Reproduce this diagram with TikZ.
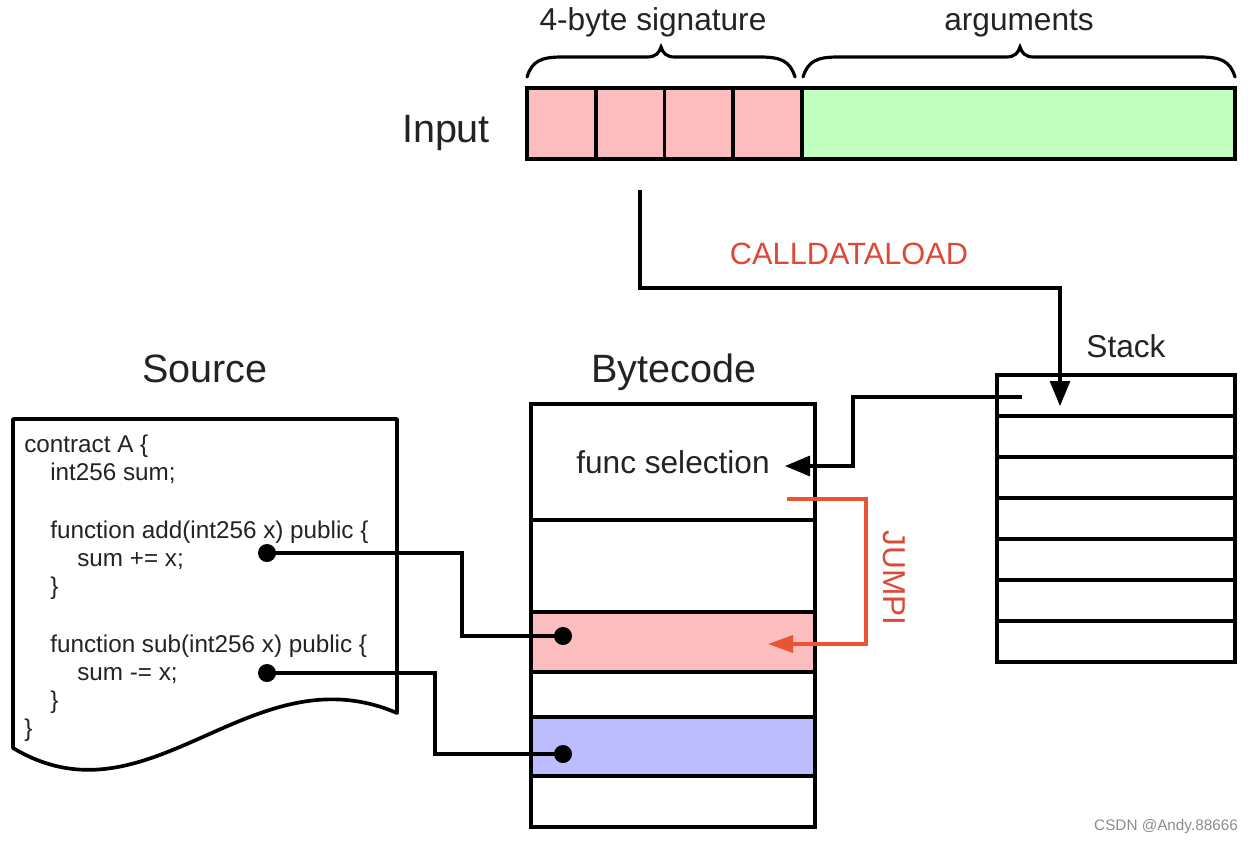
\documentclass[tikz,border=0pt]{standalone}
\usepackage{fontspec}
\setmainfont{Liberation Sans}
\usetikzlibrary{arrows.meta}
\definecolor{sigpink}{RGB}{251,189,189}
\definecolor{arggreen}{RGB}{193,255,193}
\definecolor{codeblue}{RGB}{188,188,255}
\definecolor{opred}{RGB}{222,72,52}
\definecolor{jred}{RGB}{232,84,52}
\definecolor{txt}{RGB}{35,35,35}
\definecolor{wmgray}{RGB}{140,140,140}
\newcommand\drawbrace[3]{%
  \draw[bracestyle] (#1,77) .. controls ({#1+5},61) and ({#1+14},57) .. ({#1+35},57)
    -- ({#3-14},57) .. controls ({#3-5},57) and ({#3-2},53) .. (#3,47)
    .. controls ({#3+2},53) and ({#3+5},57) .. ({#3+14},57)
    -- ({#2-35},57) .. controls ({#2-14},57) and ({#2-5},61) .. (#2,77);}
\begin{document}
\begin{tikzpicture}[x=0.02cm,y=-0.02cm,
  box/.style={draw,line width=2.1pt,inner sep=0pt,outer sep=0pt},
  cell/.style={box,fill=sigpink,minimum width=1.375cm,minimum height=1.42cm},
  brow/.style={box,fill=white,minimum width=5.68cm},
  srow/.style={box,fill=white,minimum width=4.76cm,minimum height=0.82cm},
  conn/.style={line width=1.8pt},
  blackarrow/.style={conn,-{Triangle[length=0.5cm,width=0.4cm]}},
  redarrow/.style={line width=1.8pt,draw=jred,-{Triangle[length=0.5cm,width=0.34cm]}},
  dot/.style={circle,fill=black,inner sep=0pt,minimum size=0.36cm},
  biglabel/.style={font=\fontsize{22.5pt}{26pt}\selectfont,anchor=base,inner sep=0pt,text=txt},
  midlabel/.style={font=\fontsize{18pt}{21pt}\selectfont,anchor=base,inner sep=0pt,text=txt},
  code/.style={font=\fontsize{13.8pt}{16pt}\selectfont,anchor=base west,inner sep=0pt,text=txt},
  bracestyle/.style={line width=1.8pt,line cap=round}
]
\useasboundingbox (0,0) rectangle (1254,842);

% ---------- Input ----------
\node[biglabel] (inputlbl) at (446,142) {Input};
\node[cell] (in1) at (561.4,123.5) {};
\node[cell] (in2) at (630.1,123.5) {};
\node[cell] (in3) at (698.9,123.5) {};
\node[cell] (in4) at (767.6,123.5) {};
\node[box,fill=arggreen,minimum width=8.66cm,minimum height=1.42cm] (args) at (1018.5,123.5) {};

\drawbrace{527}{795}{661}
\drawbrace{803}{1235}{1020}
\node[midlabel] (siglbl) at (653,30) {4-byte signature};
\node[midlabel] (arglbl) at (1019,30) {arguments};

% ---------- Stack ----------
\node[midlabel] (stacklbl) at (1126,357) {Stack};
\foreach \i in {1,...,7}{
  \node[srow] (s\i) at (1116,{395.5+41*(\i-1)}) {};
}

% ---------- Bytecode ----------
\node[biglabel] (bclbl) at (674,382) {Bytecode};
\node[brow,minimum height=2.32cm,font=\fontsize{18pt}{21pt}\selectfont,text=txt] (r0) at (673,462) {func selection};
\node[brow,minimum height=1.84cm] (r1) at (673,566) {};
\node[brow,minimum height=1.2cm,fill=sigpink] (r2) at (673,642) {};
\node[brow,minimum height=0.9cm] (r3) at (673,694.5) {};
\node[brow,minimum height=1.18cm,fill=codeblue] (r4) at (673,746.5) {};
\node[brow,minimum height=1.02cm] (r5) at (673,801.5) {};

% ---------- Source ----------
\node[biglabel] (srclbl) at (205,382) {Source};
\draw[line width=2.1pt,fill=white,line join=round] (13,748) -- (13,419) -- (397,419) -- (397,713)
  .. controls (250,650) and (150,830) .. (13,748) -- cycle;
\node[code] (c1) at (24,452) {contract A \{};
\node[code] (c2) at (50,480) {int256 sum;};
\node[code] (c3) at (50,538) {function add(int256 x) public \{};
\node[code] (c4) at (77,566) {sum += x;};
\node[code] (c5) at (50,594) {\}};
\node[code] (c6) at (50,652) {function sub(int256 x) public \{};
\node[code] (c7) at (77,680) {sum -= x;};
\node[code] (c8) at (50,708) {\}};
\node[code] (c9) at (24,736) {\}};

% ---------- dots and connectors ----------
\node[dot] (d1) at (267,553) {};
\node[dot] (d2) at (267,673) {};
\node[dot] (t1) at (563,636) {};
\node[dot] (t2) at (563,754) {};
\coordinate (k1) at (462,553);
\coordinate (k2) at (435,673);
\draw[conn] (d1.center) -- (k1) |- (t1.center);
\draw[conn] (d2.center) -- (k2) |- (t2.center);

% CALLDATALOAD
\coordinate (cs) at (640,190);
\coordinate (cb) at (640,288);
\coordinate (ce) at (1060,406);
\draw[blackarrow] (cs) -- (cb) -| (ce);
\node[midlabel,text=opred,font=\fontsize{17.5pt}{21pt}\selectfont] (cdl) at (849,264) {CALLDATALOAD};

% stack -> func selection
\coordinate (ss) at (1022,397);
\coordinate (sb) at (853,397);
\coordinate (fe) at (785,466);
\draw[blackarrow] (ss) -- (sb) |- (fe);

% JUMPI
\coordinate (js) at (787,499);
\coordinate (jb) at (866,499);
\coordinate (je) at (768,644);
\draw[redarrow] (js) -- (jb) |- (je);
\node[text=opred,font=\fontsize{18pt}{21pt}\selectfont,rotate=-90] (jumpi) at (894,578) {JUMPI};

% watermark
\node[anchor=base,text=wmgray,font=\fontsize{8.7pt}{10pt}\selectfont,inner sep=0pt] (wm) at (1166,830) {CSDN @Andy.88666};
\end{tikzpicture}
\end{document}
